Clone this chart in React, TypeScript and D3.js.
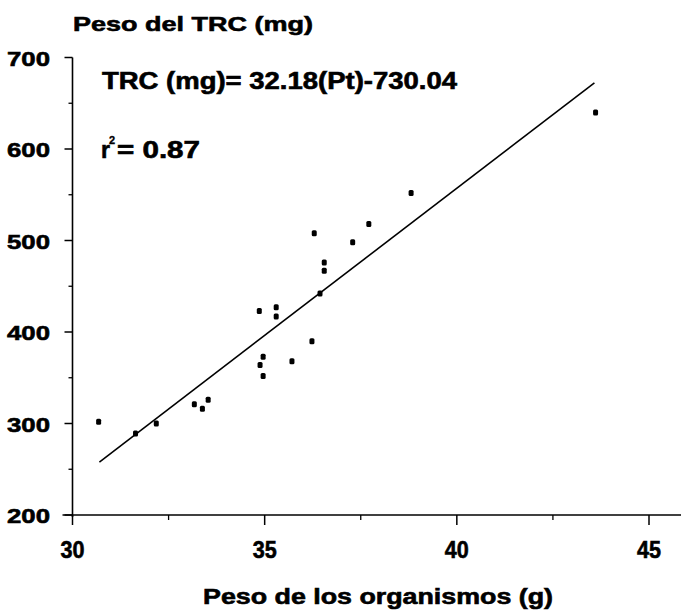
import React from "react";
import * as d3 from "d3";

const pesoOrganismos = [30.68, 31.64, 32.18, 33.17, 33.38, 33.53, 34.86, 34.88, 34.96, 34.96, 35.3, 35.3, 35.71, 36.23, 36.29, 36.44, 36.55, 36.55, 37.29, 37.71, 38.81, 43.61];
const pesoTRC = [302, 289, 300, 321, 316, 326, 423, 364, 373, 352, 427, 417, 368, 390, 508, 442, 476, 467, 498, 518, 552, 640];
const xTicks = [30, 35, 40, 45];
const xMinorTicks = [32.5, 37.5, 42.5];
const yTicks = [200, 300, 400, 500, 600, 700];
const yMinorTicks = [250, 350, 450, 550, 650];
const slope = 32.18;
const intercept = -730.04;
const lineRange = [30.7, 43.58];

const W = 681;
const H = 613;

export default function App() {
  const x = d3.scaleLinear().domain([30, 45]).range([72.5, 649]);
  const y = d3.scaleLinear().domain([200, 700]).range([515, 57.5]);
  const font = "'Liberation Sans', Arial, sans-serif";
  const lineGen = d3
    .line<number>()
    .x((d) => x(d))
    .y((d) => y(slope * d + intercept));
  const txt = { fontFamily: font, fontWeight: "bold" as const, fill: "#000", stroke: "#000", strokeWidth: 0.6 };
  return (
    <svg width={W} height={H} style={{ position: "absolute", left: 0, top: 0, background: "#fff" }}>
      <rect width={W} height={H} fill="#fff" />
      <text x={73} y={31} fontSize={21} textLength={240} lengthAdjust="spacingAndGlyphs" {...txt}>
        Peso del TRC (mg)
      </text>
      <text x={102} y={89} fontSize={23} textLength={355} lengthAdjust="spacingAndGlyphs" {...txt}>
        TRC (mg)= 32.18(Pt)-730.04
      </text>
      <text x={101} y={158} fontSize={23} {...txt}>r</text>
      <text x={109} y={144} fontSize={11} {...txt} strokeWidth={0.3}>2</text>
      <text x={117} y={158} fontSize={23} textLength={83} lengthAdjust="spacingAndGlyphs" {...txt}>
        = 0.87
      </text>
      <text x={203} y={604} fontSize={22} textLength={350} lengthAdjust="spacingAndGlyphs" {...txt}>
        Peso de los organismos (g)
      </text>
      {/* axes */}
      <line x1={x(30) - 10} x2={W} y1={y(200)} y2={y(200)} stroke="#000" strokeWidth={1.6} />
      <line x1={x(30)} x2={x(30)} y1={y(700)} y2={y(200) + 2} stroke="#000" strokeWidth={1.6} />
      {yTicks.map((t) => (
        <g key={"y" + t}>
          <line x1={x(30) - 8} x2={x(30)} y1={y(t)} y2={y(t)} stroke="#000" strokeWidth={1.5} />
          <text x={50} y={y(t) + 8} textAnchor="end" fontSize={21} textLength={43} lengthAdjust="spacingAndGlyphs" {...txt}>
            {t}
          </text>
        </g>
      ))}
      {yMinorTicks.map((t) => (
        <line key={"ym" + t} x1={x(30) - 4} x2={x(30)} y1={y(t)} y2={y(t)} stroke="#000" strokeWidth={1.3} />
      ))}
      {xTicks.map((t) => (
        <g key={"x" + t}>
          <line x1={x(t)} x2={x(t)} y1={y(200)} y2={y(200) + 10} stroke="#000" strokeWidth={1.5} />
          <text x={x(t)} y={558} textAnchor="middle" fontSize={24} textLength={24} lengthAdjust="spacingAndGlyphs" {...txt}>
            {t}
          </text>
        </g>
      ))}
      {xMinorTicks.map((t) => (
        <line key={"xm" + t} x1={x(t)} x2={x(t)} y1={y(200)} y2={y(200) + 5} stroke="#000" strokeWidth={1.3} />
      ))}
      <path d={lineGen(lineRange) || ""} stroke="#000" strokeWidth={1.6} fill="none" />
      {pesoOrganismos.map((v, i) => (
        <rect key={i} x={x(v) - 2.5} y={y(pesoTRC[i]) - 3} width={5} height={6} rx={1.5} fill="#000" />
      ))}
    </svg>
  );
}
